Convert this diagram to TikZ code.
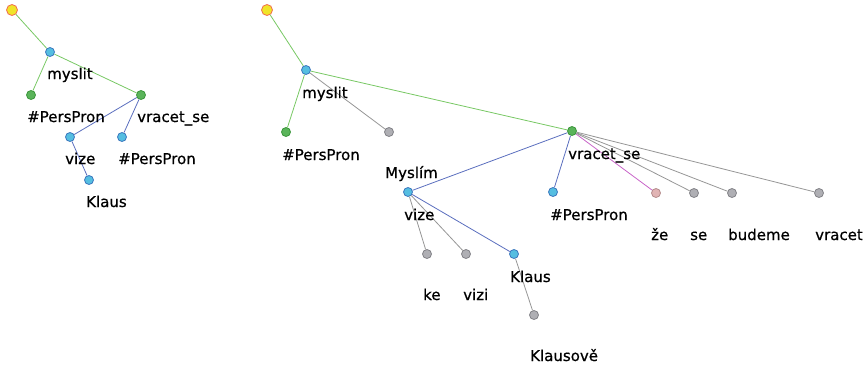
\documentclass[tikz,border=0pt]{standalone}
\usepackage{fontspec}
\setmainfont{DejaVu Sans}
\newfontfamily\labfont[FakeBold=0.6]{DejaVu Sans}
\definecolor{rootfill}{RGB}{240,228,40}
\definecolor{rootline}{RGB}{240,110,80}
\definecolor{bluefill}{RGB}{85,190,225}
\definecolor{blueline}{RGB}{60,120,190}
\definecolor{greenfill}{RGB}{90,180,90}
\definecolor{greenline}{RGB}{60,150,60}
\definecolor{grayfill}{RGB}{175,175,180}
\definecolor{grayline}{RGB}{130,130,135}
\definecolor{pinkfill}{RGB}{225,180,180}
\definecolor{pinkline}{RGB}{180,140,140}
\definecolor{gedgecol}{RGB}{120,200,100}
\definecolor{bedgecol}{RGB}{90,110,190}
\definecolor{aedgecol}{RGB}{150,150,150}
\definecolor{pedgecol}{RGB}{200,100,200}
\tikzset{
  dot/.style={circle,inner sep=0pt,minimum size=9pt,line width=0.8pt},
  rootnode/.style={dot,minimum size=11pt,fill=rootfill,draw=rootline},
  bnode/.style={dot,fill=bluefill,draw=blueline},
  gnode/.style={dot,fill=greenfill,draw=greenline},
  anode/.style={dot,fill=grayfill,draw=grayline},
  pnode/.style={dot,fill=pinkfill,draw=pinkline},
  gedge/.style={draw=gedgecol,line width=0.8pt},
  bedge/.style={draw=bedgecol,line width=0.8pt},
  aedge/.style={draw=aedgecol,line width=0.8pt},
  pedge/.style={draw=pedgecol,line width=0.8pt},
  lab/.style={anchor=base west,inner sep=0pt,font=\labfont\fontsize{15}{18}\selectfont}
}
\begin{document}
\begin{tikzpicture}[x=1pt,y=-1pt]
\useasboundingbox (0,0) rectangle (867,368);
% left tree
\node[rootnode] (lroot) at (12,10) {};
\node[bnode] (lmyslit) at (50,52) {};
\node[gnode] (lpers) at (31,95) {};
\node[gnode] (lvracet) at (141,95) {};
\node[bnode] (lvize) at (70,137) {};
\node[bnode] (lpers2) at (122,137) {};
\node[bnode] (lklaus) at (89,180) {};
\draw[gedge] (lroot) -- (lmyslit);
\draw[gedge] (lmyslit) -- (lpers);
\draw[gedge] (lmyslit) -- (lvracet);
\draw[bedge] (lvracet) -- (lvize);
\draw[bedge] (lvracet) -- (lpers2);
\draw[bedge] (lvize) -- (lklaus);
\node[lab] (lmyslitl) at (47,79) {myslit};
\node[lab] (lpersl) at (27,122) {\#PersPron};
\node[lab] (lvracetl) at (137,122) {vracet\_se};
\node[lab] (lvizel) at (65,164) {vize};
\node[lab] (lpers2l) at (118,164) {\#PersPron};
\node[lab] (lklausl) at (86,207) {Klaus};
% right tree
\node[rootnode] (rroot) at (267,10) {};
\node[bnode] (rmyslit) at (306,70) {};
\node[gnode] (rpers) at (286,132) {};
\node[anode] (rmyslim) at (389,132) {};
\node[gnode] (rvracet) at (572,131) {};
\node[bnode] (rvize) at (408,192) {};
\node[bnode] (rpers2) at (553,192) {};
\node[anode] (rke) at (427,254) {};
\node[anode] (rvizi) at (466,254) {};
\node[bnode] (rklaus) at (514,254) {};
\node[anode] (rklausove) at (534,315) {};
\node[pnode] (rze) at (656,193) {};
\node[anode] (rse) at (694,193) {};
\node[anode] (rbudeme) at (732,193) {};
\node[anode] (rvracet2) at (819,193) {};
\draw[gedge] (rroot) -- (rmyslit);
\draw[gedge] (rmyslit) -- (rpers);
\draw[aedge] (rmyslit) -- (rmyslim);
\draw[gedge] (rmyslit) -- (rvracet);
\draw[bedge] (rvracet) -- (rvize);
\draw[bedge] (rvracet) -- (rpers2);
\draw[aedge] (rvize) -- (rke);
\draw[aedge] (rvize) -- (rvizi);
\draw[bedge] (rvize) -- (rklaus);
\draw[aedge] (rklaus) -- (rklausove);
\draw[pedge] (rvracet) -- (rze);
\draw[aedge] (rvracet) -- (rse);
\draw[aedge] (rvracet) -- (rbudeme);
\draw[aedge] (rvracet) -- (rvracet2);
\node[lab] (rmyslitl) at (302,98) {myslit};
\node[lab] (rpersl) at (282,160) {\#PersPron};
\node[lab] (rvracetl) at (568,159) {vracet\_se};
\node[lab] (rmysliml) at (385,178) {Myslím};
\node[lab] (rvizel) at (404,220) {vize};
\node[lab] (rpers2l) at (550,220) {\#PersPron};
\node[lab] (rkel) at (423,300) {ke};
\node[lab] (rvizil) at (463,300) {vizi};
\node[lab] (rklausl) at (510,282) {Klaus};
\node[lab] (rklausovel) at (530,361) {Klausově};
\node[lab] (rzel) at (651,240) {že};
\node[lab] (rsel) at (690,240) {se};
\node[lab] (rbudemel) at (728,240) {budeme};
\node[lab] (rvracet2l) at (815,240) {vracet};
\end{tikzpicture}
\end{document}
